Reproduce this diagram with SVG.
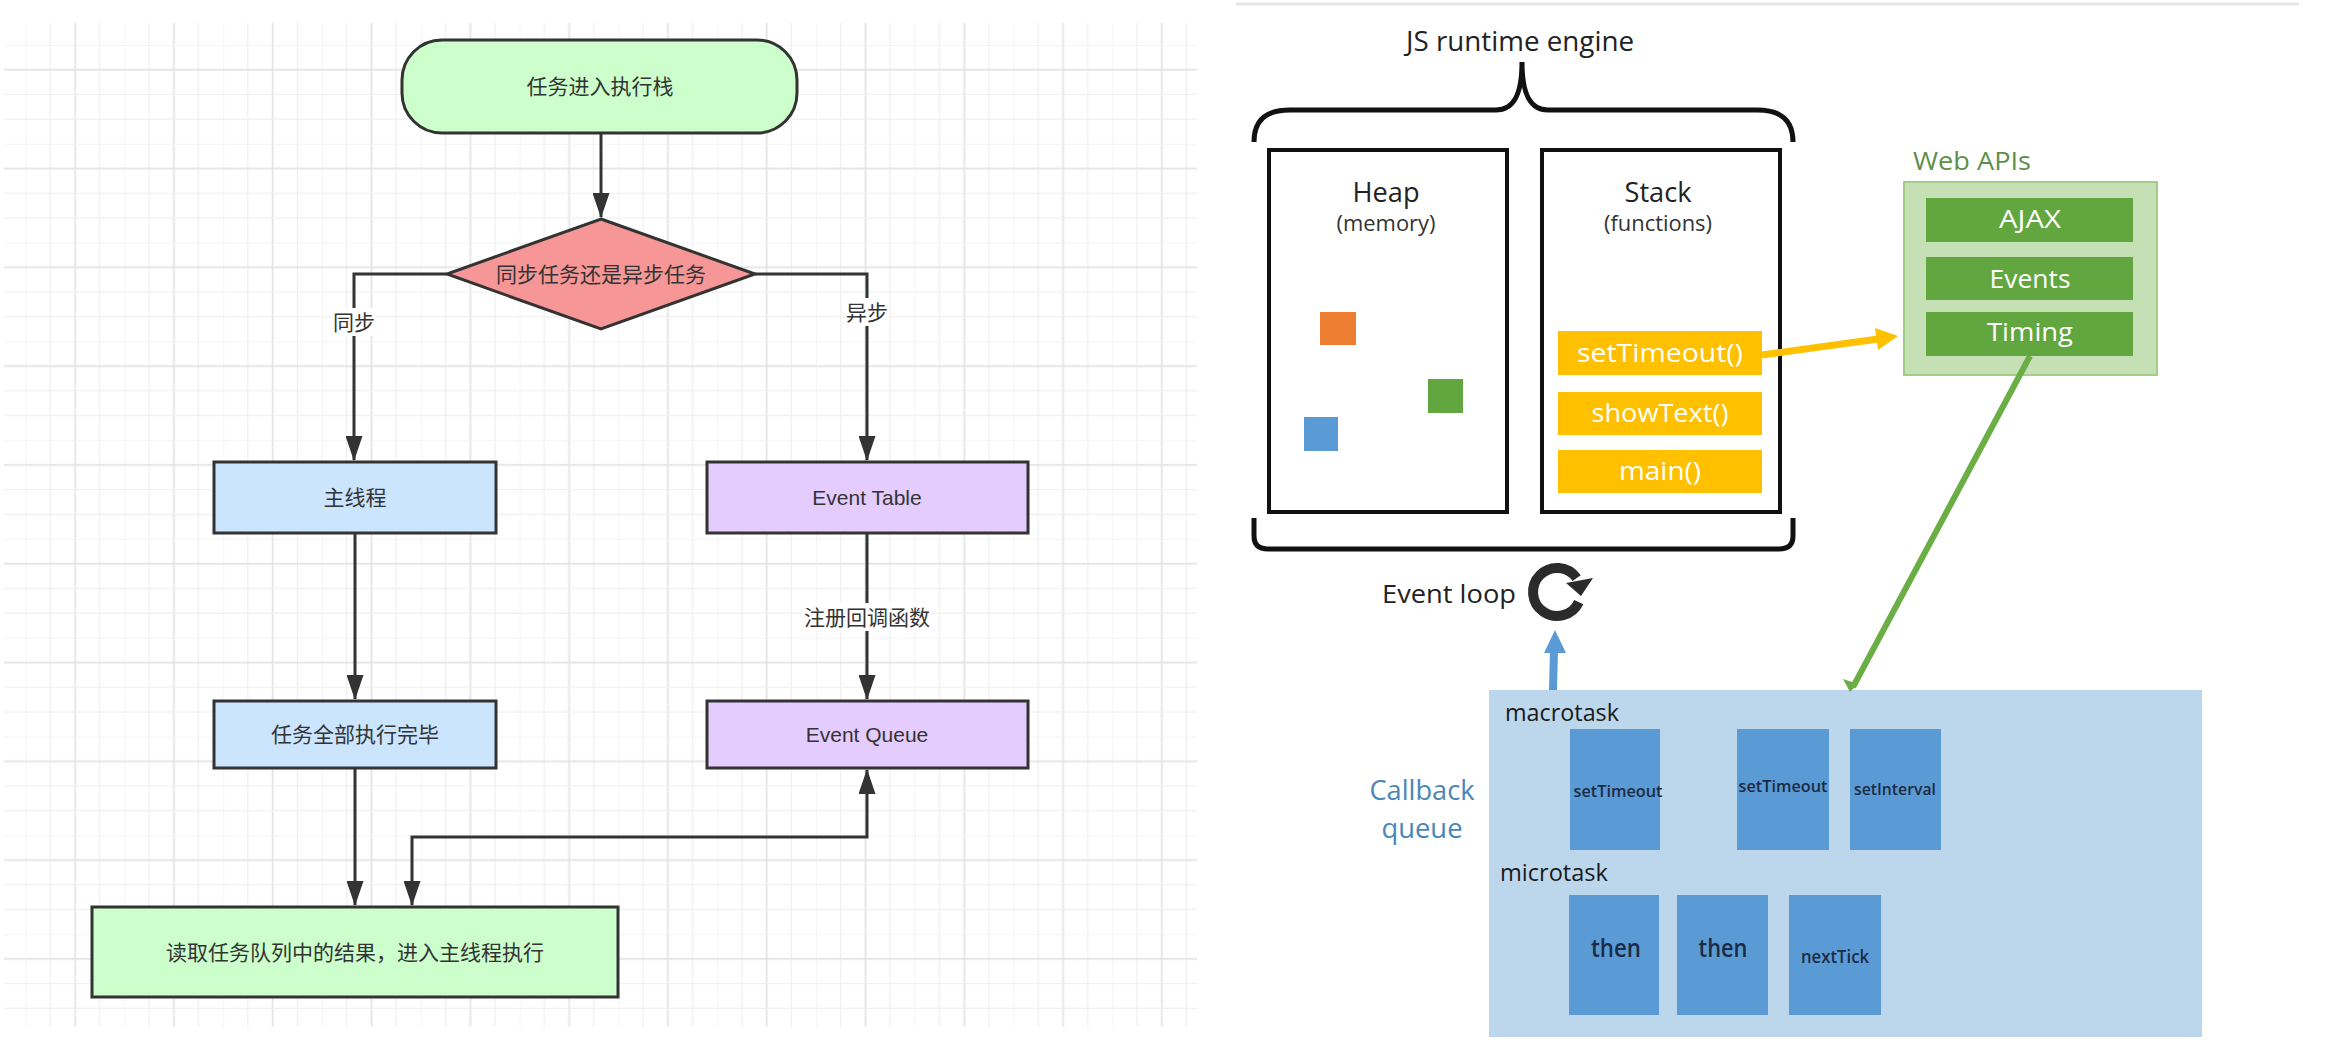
<svg xmlns="http://www.w3.org/2000/svg" width="2332" height="1052" viewBox="0 0 2332 1052">
<style>
.cn{font-family:"Liberation Sans","Noto Sans CJK SC",sans-serif;font-size:21px;fill:#333;text-anchor:middle}
.box{stroke:#333;stroke-width:3}
.conn{fill:none;stroke:#333;stroke-width:3}
.lbl{fill:#fff}
.rt{font-family:"Open Sans","Noto Sans",sans-serif;text-anchor:middle}
.blk{fill:none;stroke:#111;stroke-width:4}
.q{fill:#5b9bd5}
.qt{font-family:"Open Sans","Noto Sans",sans-serif;font-weight:600;fill:#1b2b45;text-anchor:middle}
.wa{fill:#62a640}
.wt{font-family:"Open Sans","Noto Sans",sans-serif;font-size:26px;fill:#fff;text-anchor:middle}
.yb{fill:#ffc000}
.yt{font-family:"Open Sans","Noto Sans",sans-serif;font-size:25px;fill:#fff;text-anchor:middle}
</style>
<defs>
<pattern id="grid" patternUnits="userSpaceOnUse" x="25.6" y="45" width="98.8" height="98.8">
<rect x="-0.6" y="0" width="1.2" height="98.8" fill="#efefef"/>
<rect x="24.1" y="0" width="1.2" height="98.8" fill="#efefef"/>
<rect x="48.6" y="0" width="1.8" height="98.8" fill="#e4e4e4"/>
<rect x="73.5" y="0" width="1.2" height="98.8" fill="#efefef"/>
<rect x="0" y="-0.6" width="98.8" height="1.2" fill="#efefef"/>
<rect x="0" y="23.8" width="98.8" height="1.8" fill="#e4e4e4"/>
<rect x="0" y="48.8" width="98.8" height="1.2" fill="#efefef"/>
<rect x="0" y="73.5" width="98.8" height="1.2" fill="#efefef"/>
</pattern>
<marker id="ah" viewBox="0 0 25 17" markerWidth="25" markerHeight="17" refX="24" refY="8.5" orient="auto-start-reverse" markerUnits="userSpaceOnUse">
<path d="M0,0 L25,8.5 L0,17 z" fill="#333"/>
</marker>
</defs>
<rect width="2332" height="1052" fill="#fff"/>

<!-- left flowchart -->
<g id="left-grid">
<rect x="4" y="23" width="1193" height="1004" fill="url(#grid)"/>
</g>

<g id="connectors">
<path class="conn" d="M601,133 V217" marker-end="url(#ah)"/>
<path class="conn" d="M447,274 H354 V460" marker-end="url(#ah)"/>
<path class="conn" d="M755,274 H867 V460" marker-end="url(#ah)"/>
<path class="conn" d="M355,533 V699" marker-end="url(#ah)"/>
<path class="conn" d="M867,533 V699" marker-end="url(#ah)"/>
<path class="conn" d="M355,768 V905" marker-end="url(#ah)"/>
<path class="conn" d="M412,905 V837 H867 V770" marker-start="url(#ah)" marker-end="url(#ah)"/>
<rect class="lbl" x="332" y="308" width="44" height="28"/>
<text class="cn" x="354" y="330">同步</text>
<rect class="lbl" x="845" y="298" width="44" height="28"/>
<text class="cn" x="867" y="320">异步</text>
<rect class="lbl" x="802" y="603" width="130" height="28"/>
<text class="cn" x="867" y="625">注册回调函数</text>
</g>

<g id="start">
<rect class="box" x="402" y="40" width="395" height="93" rx="40" ry="40" fill="#ccffcc"/>
<text class="cn" x="600" y="94">任务进入执行栈</text>
</g>
<g id="decision">
<polygon class="box" points="601,219 755,274 601,329 447,274" fill="#f69696"/>
<text class="cn" x="601" y="282">同步任务还是异步任务</text>
</g>
<g id="main-thread">
<rect class="box" x="214" y="462" width="282" height="71" fill="#cce5ff"/>
<text class="cn" x="355" y="505">主线程</text>
</g>
<g id="event-table">
<rect class="box" x="707" y="462" width="321" height="71" fill="#e5ccff"/>
<text class="cn" x="867" y="505">Event Table</text>
</g>
<g id="tasks-done">
<rect class="box" x="214" y="701" width="282" height="67" fill="#cce5ff"/>
<text class="cn" x="355" y="742">任务全部执行完毕</text>
</g>
<g id="event-queue">
<rect class="box" x="707" y="701" width="321" height="67" fill="#e5ccff"/>
<text class="cn" x="867" y="742">Event Queue</text>
</g>
<g id="read-queue">
<rect class="box" x="92" y="907" width="526" height="90" fill="#ccffcc"/>
<text class="cn" x="355" y="960">读取任务队列中的结果，进入主线程执行</text>
</g>

<!-- right event loop picture -->
<g id="runtime">
<line x1="1236" y1="4" x2="2299" y2="4" stroke="#e6e6e6" stroke-width="3"/>
<text class="rt" x="1520" y="51" font-size="27" fill="#222" textLength="228" lengthAdjust="spacingAndGlyphs">JS runtime engine</text>
<path d="M1254,142 C1254,120 1266,110 1290,110 L1496,110 C1513,110 1522,96 1522,62 C1522,96 1531,110 1548,110 L1757,110 C1781,110 1793,120 1793,142" fill="none" stroke="#111" stroke-width="5"/>
<path d="M1254,518 V536 C1254,545 1259,549 1268,549 H1779 C1788,549 1793,545 1793,536 V518" fill="none" stroke="#111" stroke-width="5"/>
</g>
<g id="heap">
<rect class="blk" x="1269" y="150" width="238" height="362" fill="#fff"/>
<text class="rt" x="1386" y="202" font-size="27" fill="#222" textLength="67" lengthAdjust="spacingAndGlyphs">Heap</text>
<text class="rt" x="1386" y="231" font-size="21" fill="#333" textLength="99" lengthAdjust="spacingAndGlyphs">(memory)</text>
<rect x="1320" y="312" width="36" height="33" fill="#ed7d31"/>
<rect x="1428" y="379" width="35" height="34" fill="#62a640"/>
<rect x="1304" y="417" width="34" height="34" fill="#5b9bd5"/>
</g>
<g id="stack">
<rect class="blk" x="1542" y="150" width="238" height="362"/>
<text class="rt" x="1658" y="202" font-size="27" fill="#222" textLength="67" lengthAdjust="spacingAndGlyphs">Stack</text>
<text class="rt" x="1658" y="231" font-size="21" fill="#333" textLength="108" lengthAdjust="spacingAndGlyphs">(functions)</text>
<rect class="yb" x="1558" y="331" width="204" height="44"/>
<text class="yt" x="1660" y="362" textLength="166" lengthAdjust="spacingAndGlyphs">setTimeout()</text>
<rect class="yb" x="1558" y="392" width="204" height="43"/>
<text class="yt" x="1660" y="422" textLength="137" lengthAdjust="spacingAndGlyphs">showText()</text>
<rect class="yb" x="1558" y="450" width="204" height="43"/>
<text class="yt" x="1660" y="480" textLength="82" lengthAdjust="spacingAndGlyphs">main()</text>
</g>
<g id="web-apis">
<text x="1913" y="170" font-family="Open Sans, Noto Sans, sans-serif" font-size="26" fill="#5e8f4a" textLength="118" lengthAdjust="spacingAndGlyphs">Web APIs</text>
<rect x="1904" y="182" width="253" height="193" fill="#c5e0b4" stroke="#a3cc88" stroke-width="2"/>
<rect class="wa" x="1926" y="198" width="207" height="44"/>
<text class="wt" x="2030" y="228" textLength="62" lengthAdjust="spacingAndGlyphs">AJAX</text>
<rect class="wa" x="1926" y="257" width="207" height="43"/>
<text class="wt" x="2030" y="288" textLength="81" lengthAdjust="spacingAndGlyphs">Events</text>
<rect class="wa" x="1926" y="312" width="207" height="44"/>
<text class="wt" x="2030" y="341" textLength="86" lengthAdjust="spacingAndGlyphs">Timing</text>
</g>
<g id="event-loop">
<text x="1382" y="603" font-family="Open Sans, Noto Sans, sans-serif" font-size="26" fill="#222" textLength="134" lengthAdjust="spacingAndGlyphs">Event loop</text>
<path d="M1576.7,578.2 A24,24 0 1 0 1578.8,602.1" fill="none" stroke="#2b2b2b" stroke-width="10"/>
<polygon points="1566,583 1593,578 1581,596" fill="#2b2b2b"/>
</g>
<g id="callback-queue">
<text class="rt" x="1422" y="800" font-size="28" fill="#4a86b8" textLength="105" lengthAdjust="spacingAndGlyphs">Callback</text>
<text class="rt" x="1422" y="838" font-size="28" fill="#4a86b8" textLength="81" lengthAdjust="spacingAndGlyphs">queue</text>
<rect x="1489" y="690" width="713" height="347" fill="#bcd7ec"/>
<text x="1505" y="721" font-family="Open Sans, Noto Sans, sans-serif" font-size="24" fill="#1a1a1a" textLength="114" lengthAdjust="spacingAndGlyphs">macrotask</text>
<text x="1500" y="881" font-family="Open Sans, Noto Sans, sans-serif" font-size="24" fill="#1a1a1a" textLength="108" lengthAdjust="spacingAndGlyphs">microtask</text>
<rect class="q" x="1570" y="729" width="90" height="121"/>
<text class="qt" x="1618" y="797" font-size="17" textLength="89" lengthAdjust="spacingAndGlyphs">setTimeout</text>
<rect class="q" x="1737" y="729" width="92" height="121"/>
<text class="qt" x="1783" y="792" font-size="17" textLength="89" lengthAdjust="spacingAndGlyphs">setTimeout</text>
<rect class="q" x="1850" y="729" width="91" height="121"/>
<text class="qt" x="1895" y="795" font-size="17" textLength="82" lengthAdjust="spacingAndGlyphs">setInterval</text>
<rect class="q" x="1569" y="895" width="90" height="120"/>
<text class="qt" x="1616" y="957" font-size="25" textLength="50" lengthAdjust="spacingAndGlyphs">then</text>
<rect class="q" x="1677" y="895" width="91" height="120"/>
<text class="qt" x="1723" y="957" font-size="25" textLength="49" lengthAdjust="spacingAndGlyphs">then</text>
<rect class="q" x="1789" y="895" width="92" height="120"/>
<text class="qt" x="1835" y="963" font-size="18" textLength="68" lengthAdjust="spacingAndGlyphs">nextTick</text>
</g>
<g id="right-connectors">
<line x1="1762" y1="355" x2="1878" y2="339" stroke="#ffc000" stroke-width="7"/>
<polygon points="1898,336 1875,328 1878,350" fill="#ffc000"/>
<line x1="2030" y1="356" x2="1853" y2="687" stroke="#6aae45" stroke-width="6"/>
<polygon points="1850,692 1843,679 1858,684" fill="#6aae45"/>
<line x1="1553" y1="690" x2="1554" y2="650" stroke="#5b9bd5" stroke-width="8"/>
<polygon points="1555,630 1544,653 1566,653" fill="#5b9bd5"/>
</g>
</svg>
